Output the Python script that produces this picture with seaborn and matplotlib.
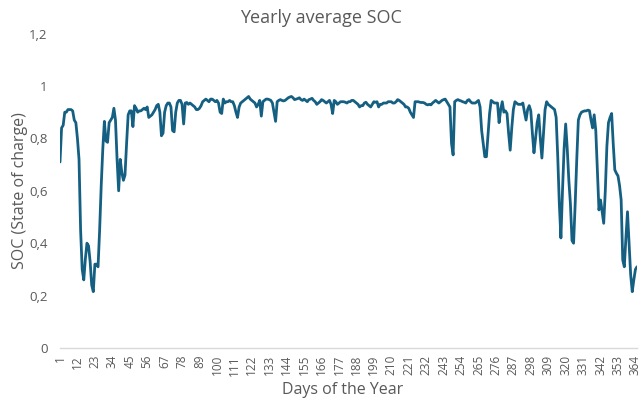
import numpy as np
import pandas as pd
import matplotlib
matplotlib.use("Agg")
import matplotlib.pyplot as plt
from matplotlib.ticker import FuncFormatter, FixedLocator
import seaborn as sns

# ---- data ----
days = list(range(1, 366))
soc = [
    # 1-11
    0.71, 0.84, 0.85, 0.90, 0.90, 0.91, 0.91, 0.91, 0.905, 0.87, 0.86,
    # 12-22
    0.80, 0.72, 0.45, 0.30, 0.26, 0.34, 0.40, 0.39, 0.33, 0.24, 0.215,
    # 23-33
    0.32, 0.32, 0.31, 0.45, 0.62, 0.76, 0.865, 0.79, 0.785, 0.86, 0.87,
    # 34-44
    0.88, 0.915, 0.87, 0.72, 0.60, 0.72, 0.67, 0.64, 0.66, 0.78, 0.89,
    # 45-55
    0.905, 0.905, 0.845, 0.925, 0.915, 0.90, 0.905, 0.905, 0.91, 0.915, 0.91,
    # 56-66
    0.92, 0.88, 0.885, 0.89, 0.90, 0.91, 0.925, 0.93, 0.90, 0.81, 0.82,
    # 67-77
    0.90, 0.925, 0.935, 0.935, 0.92, 0.83, 0.825, 0.90, 0.935, 0.945, 0.945,
    # 78-88
    0.93, 0.855, 0.935, 0.937, 0.93, 0.935, 0.93, 0.925, 0.92, 0.91, 0.91,
    # 89-99
    0.915, 0.925, 0.94, 0.945, 0.95, 0.945, 0.94, 0.95, 0.95, 0.945, 0.94,
    # 100-110
    0.945, 0.935, 0.90, 0.895, 0.95, 0.935, 0.94, 0.94, 0.945, 0.94, 0.94,
    # 111-121
    0.925, 0.90, 0.88, 0.92, 0.935, 0.94, 0.945, 0.95, 0.955, 0.96, 0.95,
    # 122-132
    0.945, 0.94, 0.935, 0.92, 0.93, 0.945, 0.885, 0.94, 0.945, 0.95, 0.95,
    # 133-143
    0.948, 0.945, 0.935, 0.90, 0.865, 0.94, 0.945, 0.948, 0.945, 0.943, 0.945,
    # 144-154
    0.95, 0.955, 0.958, 0.96, 0.955, 0.948, 0.95, 0.952, 0.955, 0.948, 0.945,
    # 155-165
    0.95, 0.945, 0.94, 0.948, 0.95, 0.953, 0.945, 0.94, 0.93, 0.935, 0.94,
    # 166-176
    0.948, 0.945, 0.94, 0.935, 0.94, 0.945, 0.93, 0.895, 0.945, 0.94, 0.93,
    # 177-187
    0.935, 0.94, 0.94, 0.94, 0.938, 0.935, 0.94, 0.94, 0.945, 0.945, 0.94,
    # 188-198
    0.935, 0.93, 0.92, 0.925, 0.925, 0.935, 0.938, 0.93, 0.925, 0.92, 0.93,
    # 199-209
    0.94, 0.938, 0.94, 0.92, 0.93, 0.93, 0.935, 0.935, 0.935, 0.94, 0.94,
    # 210-220
    0.94, 0.935, 0.935, 0.94, 0.948, 0.945, 0.94, 0.935, 0.93, 0.92, 0.92,
    # 221-231
    0.915, 0.90, 0.89, 0.88, 0.94, 0.94, 0.94, 0.938, 0.937, 0.937, 0.935,
    # 232-242
    0.93, 0.928, 0.93, 0.928, 0.935, 0.94, 0.945, 0.94, 0.935, 0.94, 0.945,
    # 243-253
    0.948, 0.95, 0.94, 0.93, 0.92, 0.78, 0.737, 0.94, 0.945, 0.948, 0.945,
    # 254-264
    0.943, 0.94, 0.938, 0.935, 0.945, 0.948, 0.94, 0.935, 0.935, 0.935, 0.94,
    # 265-275
    0.945, 0.92, 0.83, 0.78, 0.73, 0.73, 0.81, 0.895, 0.945, 0.94, 0.935,
    # 276-286
    0.935, 0.935, 0.86, 0.91, 0.94, 0.90, 0.905, 0.895, 0.82, 0.755, 0.84,
    # 287-297
    0.91, 0.94, 0.935, 0.93, 0.93, 0.93, 0.935, 0.90, 0.87, 0.91, 0.925,
    # 298-308
    0.905, 0.82, 0.745, 0.80, 0.86, 0.89, 0.80, 0.725, 0.82, 0.91, 0.94,
    # 309-319
    0.93, 0.925, 0.92, 0.915, 0.91, 0.88, 0.73, 0.55, 0.42, 0.60, 0.76,
    # 320-330
    0.855, 0.76, 0.64, 0.55, 0.41, 0.40, 0.55, 0.72, 0.87, 0.89, 0.90,
    # 331-341
    0.903, 0.905, 0.905, 0.908, 0.906, 0.87, 0.84, 0.89, 0.83, 0.68, 0.527,
    # 342-352
    0.565, 0.52, 0.476, 0.60, 0.77, 0.86, 0.88, 0.895, 0.78, 0.68, 0.667,
    # 353-365
    0.657, 0.62, 0.565, 0.336, 0.31, 0.42, 0.52, 0.40, 0.28, 0.215, 0.26, 0.30, 0.31,
]
xtick_days = list(range(1, 365, 11))
ytick_vals = [0, 0.2, 0.4, 0.6, 0.8, 1.0, 1.2]

title = "Yearly average SOC"
xlabel = "Days of the Year"
ylabel = "SOC (State of charge)"

df = pd.DataFrame({"day": days, "soc": soc})

sns.set_theme(style="white")
plt.rcParams["font.family"] = ["Open Sans", "DejaVu Sans"]

fig = plt.figure(figsize=(6.41, 4.03), dpi=100)
ax = fig.add_axes([60 / 641, 1 - 348 / 403, (637 - 60) / 641, (348 - 33.6) / 403])

sns.lineplot(data=df, x="day", y="soc", ax=ax, color="#156082", linewidth=2.0)

ax.set_xlim(1, 365)
ax.set_ylim(0, 1.2)

grey = "#595959"
ax.yaxis.set_major_locator(FixedLocator(ytick_vals))
ax.yaxis.set_major_formatter(FuncFormatter(lambda v, p: f"{v:g}".replace(".", ",")))
ax.xaxis.set_major_locator(FixedLocator(xtick_days))
ax.set_xticklabels([str(d) for d in xtick_days], rotation=90)

ax.tick_params(axis="both", length=0, colors=grey)
ax.tick_params(axis="y", labelsize=9.5, pad=9)
ax.tick_params(axis="x", labelsize=8.5, pad=5)

for s in ["top", "right", "left"]:
    ax.spines[s].set_visible(False)
ax.spines["bottom"].set_color("#D9D9D9")
ax.spines["bottom"].set_linewidth(1.0)

ax.set_xlabel(xlabel, fontsize=11.5, color=grey)
ax.xaxis.set_label_coords(0.49, -(390 - 348) / (348 - 33.6))
ax.xaxis.label.set_va("center")
ax.set_ylabel(ylabel, fontsize=11.5, color=grey)
ax.yaxis.set_label_coords(-(60 - 28) / 577, 0.5)
fig.text(0.5, 1 - 18 / 403, title, ha="center", va="center", fontsize=13, color=grey)

fig.savefig("out.png", dpi=100)
